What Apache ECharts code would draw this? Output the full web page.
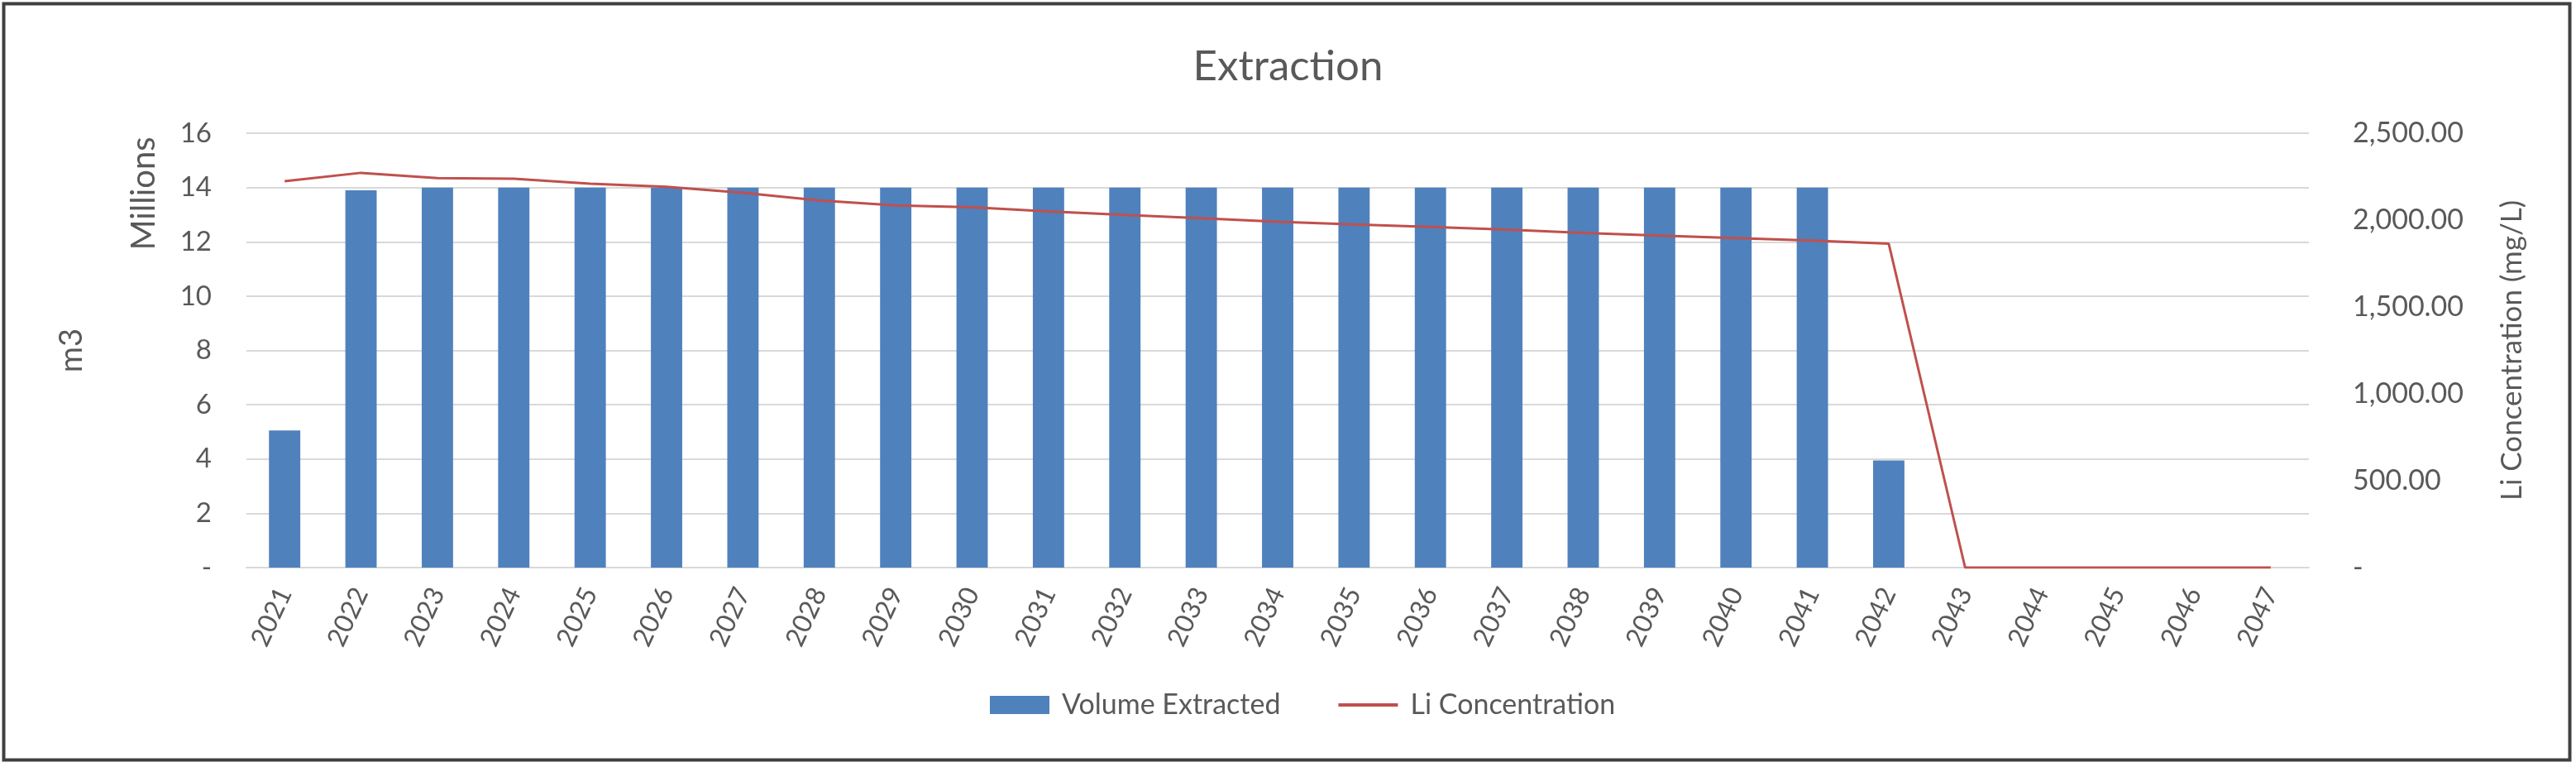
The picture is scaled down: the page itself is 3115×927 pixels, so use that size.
<!DOCTYPE html>
<html>
<head>
<meta charset="utf-8">
<script src="https://cdn.jsdelivr.net/npm/echarts@6/dist/echarts.min.js"></script>
<style>
html,body{margin:0;padding:0;background:#fff;}
#c{width:3115px;height:927px;}
</style>
</head>
<body>
<div id="c"></div>
<script>
const years = ['2021','2022','2023','2024','2025','2026','2027','2028','2029','2030','2031','2032','2033','2034','2035','2036','2037','2038','2039','2040','2041','2042','2043','2044','2045','2046','2047'];
const volumeExtracted = [5.05,13.9,14,14,14,14,14,14,14,14,14,14,14,14,14,14,14,14,14,14,14,3.95,0,0,0,0,0];
const liConcentration = [2224,2272,2242,2238,2210,2192,2157,2113,2085,2074,2050,2030,2011,1990,1975,1961,1945,1926,1911,1897,1882,1864,0,0,0,0,0];
const leftTicks = {min:0,max:16,interval:2};
const rightTicks = {min:0,max:2500,interval:500};

const txt = '#595959';
const font = 'Lato, "Open Sans", sans-serif';
const chart = echarts.init(document.getElementById('c'), null, {renderer:'canvas'});
chart.setOption({
  backgroundColor:'#fff',
  animation:false,
  textStyle:{fontFamily:font,color:txt},
  title:{text:'Extraction',left:'center',top:50,textStyle:{fontFamily:font,fontSize:51,fontWeight:'normal',color:txt}},
  legend:{bottom:53,left:1192,itemGap:70,itemWidth:72,itemHeight:22,symbolKeepAspect:true,
    textStyle:{fontFamily:font,fontSize:34,color:txt,padding:[0,0,0,10]},
    data:[{name:'Volume Extracted',icon:'rect'},
          {name:'Li Concentration',icon:'path://M0,0H72V4H0Z',itemStyle:{color:'#C0504D'}}]},
  grid:{left:298,right:323,top:161,bottom:241,containLabel:false},
  xAxis:{type:'category',data:years,boundaryGap:true,
    axisLine:{lineStyle:{color:'#D9D9D9',width:2}},axisTick:{show:false},
    axisLabel:{rotate:65,fontSize:32,color:txt,fontFamily:font,margin:26}},
  yAxis:[
    {type:'value',min:leftTicks.min,max:leftTicks.max,interval:leftTicks.interval,
     name:'m3',nameLocation:'middle',nameGap:192,nameRotate:90,
     nameTextStyle:{fontSize:38,color:txt,fontFamily:font},
     axisLine:{show:false},axisTick:{show:false},
     splitLine:{lineStyle:{color:'#D9D9D9',width:2}},
     axisLabel:{fontSize:33,color:txt,fontFamily:font,margin:42,formatter:v=>v===0?'-':String(v)}},
    {type:'value',min:rightTicks.min,max:rightTicks.max,interval:rightTicks.interval,
     name:'Li Concentration (mg/L)',nameLocation:'middle',nameGap:228,nameRotate:90,
     nameTextStyle:{fontSize:35,color:txt,fontFamily:font},
     axisLine:{show:false},axisTick:{show:false},splitLine:{show:false},
     axisLabel:{fontSize:34,color:txt,fontFamily:font,margin:53,align:'left',
       formatter:v=>v===0?'-':v.toLocaleString('en-US',{minimumFractionDigits:2,maximumFractionDigits:2})}}
  ],
  graphic:[
    {type:'text',x:174,y:234,rotation:Math.PI/2,style:{text:'Millions',fontSize:40,fill:txt,fontFamily:font,align:'center',verticalAlign:'middle'}},
    {type:'rect',shape:{x:4.5,y:4.5,width:3103,height:914},style:{fill:'none',stroke:'#404040',lineWidth:4}}
  ],
  series:[
    {name:'Volume Extracted',type:'bar',data:volumeExtracted,barWidth:'41%',itemStyle:{color:'#4F81BD'}},
    {name:'Li Concentration',type:'line',yAxisIndex:1,data:liConcentration,showSymbol:false,symbol:'none',
     lineStyle:{color:'#C0504D',width:3},itemStyle:{color:'#C0504D'}}
  ]
});
</script>
</body>
</html>
